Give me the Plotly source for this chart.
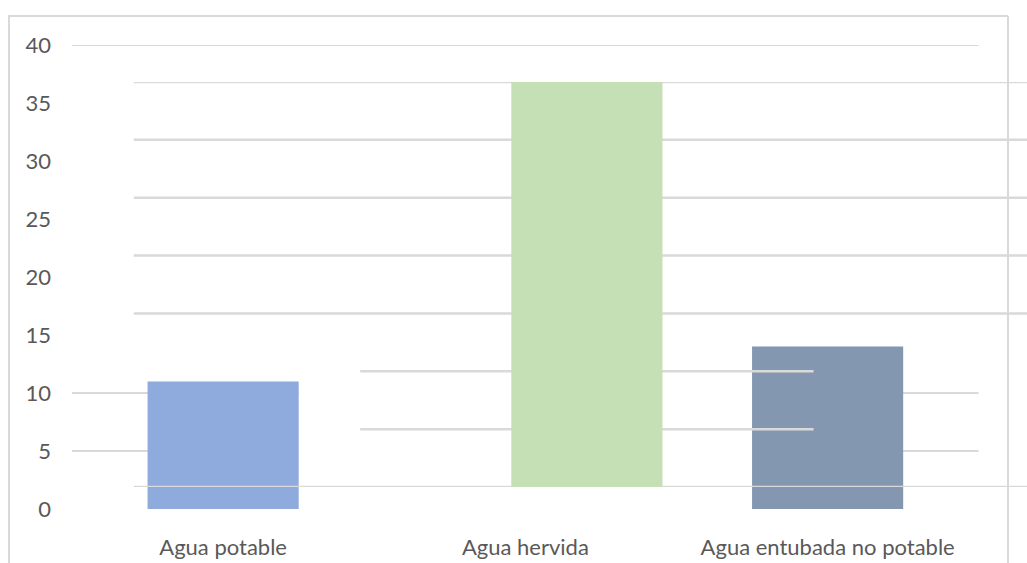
import plotly.graph_objects as go

# Data
categories = ["Agua potable", "Agua hervida", "Agua entubada no potable"]
values = [11, 35, 14]
bar_colors = ["#8FAADC", "#C5E0B4", "#8497B0"]
y_ticks = [0, 5, 10, 15, 20, 25, 30, 35, 40]

W, H = 1027, 563
GRID = "#D9D9D9"
TEXT = "#595959"
FONT = "Lato, 'Open Sans', sans-serif"
FONT_SIZE = 22


def fx(p):
    return p / W


def fy(p):
    return 1 - p / H


# Front layer: category slots every 302.25 px starting at 72 px
slot = 302.25
x_left = 72.0
x_right = x_left + 3 * slot
# Offset copy of the plot, shifted right and up
x2_left = x_left + 61.5
x2_end = -0.5 + (W - x2_left) / slot

front_idx = [0, 2]
back_idx = [1]

fig = go.Figure()

fig.add_trace(go.Bar(
    x=categories,
    y=[values[i] if i in front_idx else None for i in range(len(values))],
    marker=dict(color=bar_colors, line=dict(width=0)),
    xaxis="x", yaxis="y",
    hoverinfo="x+y",
))

fig.add_trace(go.Bar(
    x=categories,
    y=[values[i] if i in back_idx else None for i in range(len(values))],
    marker=dict(color=bar_colors, line=dict(width=0)),
    xaxis="x2", yaxis="y2",
    hoverinfo="x+y",
))

shapes = []

# Gridlines of the front layer (drawn under its bars)
shapes.append(dict(type="line", xref="x", yref="y", x0=-0.5, x1=2.5,
                   y0=y_ticks[-1], y1=y_ticks[-1], layer="below",
                   line=dict(color=GRID, width=2)))
for t in (5, 10):
    for a, b in ((-0.5, 0.25), (1.75, 2.5)):
        shapes.append(dict(type="line", xref="x", yref="y", x0=a, x1=b,
                           y0=t, y1=t, layer="below",
                           line=dict(color=GRID, width=2)))

# Gridlines of the offset layer (drawn over the front bars, under its own bar)
for t in y_ticks[:-1]:
    if t in (5, 10):
        a, b = 0.25, 1.75
    else:
        a, b = -0.5, x2_end
    shapes.append(dict(type="line", xref="x2", yref="y2", x0=a, x1=b,
                       y0=t, y1=t, layer="below",
                       line=dict(color=GRID, width=2.5)))

# Chart frame
frame = dict(color=GRID, width=2)
shapes.append(dict(type="line", xref="paper", yref="paper",
                   x0=fx(8), x1=fx(1008), y0=fy(16), y1=fy(16), line=frame, layer="below"))
shapes.append(dict(type="line", xref="paper", yref="paper",
                   x0=fx(9), x1=fx(9), y0=fy(16), y1=-0.05, line=frame, layer="below"))
shapes.append(dict(type="line", xref="paper", yref="paper",
                   x0=fx(1008), x1=fx(1008), y0=fy(16), y1=-0.05, line=frame, layer="below"))

fig.update_layout(
    width=W, height=H,
    margin=dict(l=0, r=0, t=0, b=0),
    paper_bgcolor="white", plot_bgcolor="rgba(0,0,0,0)",
    showlegend=False,
    bargap=0.5,
    font=dict(family=FONT, size=FONT_SIZE, color=TEXT),
    shapes=shapes,
    xaxis=dict(
        domain=[fx(x_left), fx(x_right)],
        type="category", categoryorder="array", categoryarray=categories,
        range=[-0.5, 2.5],
        showgrid=False, zeroline=False, showline=False, ticks="",
        tickfont=dict(family=FONT, size=FONT_SIZE, color=TEXT),
        ticklabelstandoff=23,
        automargin=False, anchor="y",
    ),
    yaxis=dict(
        domain=[fy(509), fy(45)],
        range=[0, 40], tickvals=y_ticks,
        showgrid=False, zeroline=False, showline=False, ticks="",
        tickfont=dict(family=FONT, size=FONT_SIZE, color=TEXT),
        ticklabelstandoff=20,
        automargin=False, anchor="x",
    ),
    xaxis2=dict(
        domain=[fx(x2_left), 1.0],
        type="category", categoryorder="array", categoryarray=categories,
        range=[-0.5, x2_end],
        showgrid=False, zeroline=False, showline=False, ticks="",
        showticklabels=False, automargin=False, anchor="y2",
    ),
    yaxis2=dict(
        domain=[fy(487), fy(82)],
        range=[0, 35],
        showgrid=False, zeroline=False, showline=False, ticks="",
        showticklabels=False, automargin=False, anchor="x2",
    ),
)

fig.write_html("out.html")
